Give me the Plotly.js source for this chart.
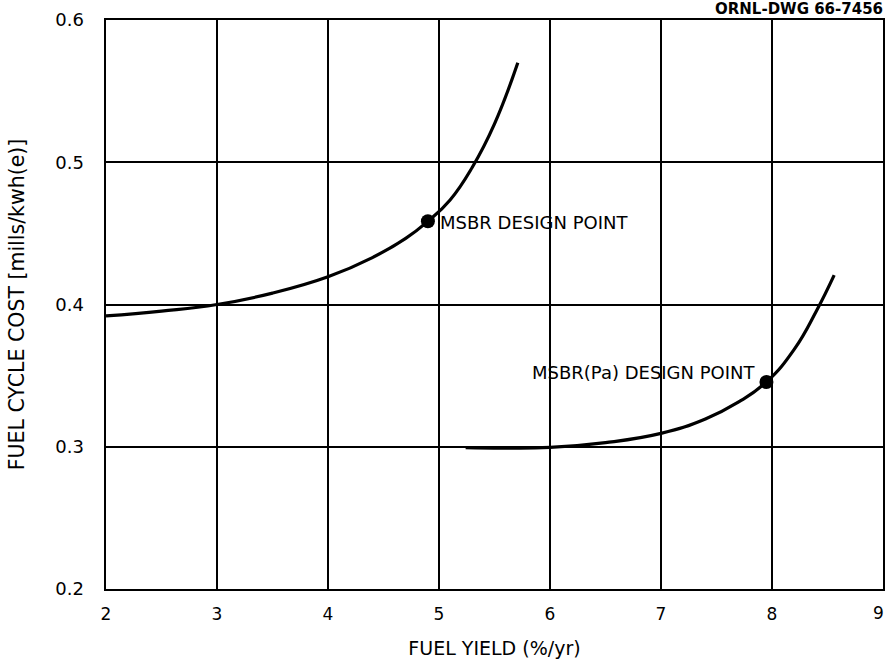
<!DOCTYPE html>
<html>
<head>
<meta charset="utf-8">
<script src="https://cdn.plot.ly/plotly-3.0.1.min.js"></script>
<style>html,body{margin:0;padding:0;background:#fff;}#chart{width:885px;height:664px;}</style>
</head>
<body>
<div id="chart"></div>
<script>
// MSBR curve
const msbrX = [2.0, 2.5, 3.0, 3.5, 4.0, 4.4, 4.7, 4.9, 5.1, 5.3, 5.5, 5.71];
const msbrY = [0.392, 0.3954, 0.400, 0.408, 0.4195, 0.433, 0.4465, 0.4585, 0.4735, 0.4965, 0.527, 0.570];
// MSBR(Pa) curve
const paX = [5.24, 5.6, 6.0, 6.5, 7.0, 7.4, 7.7, 7.95, 8.2, 8.4, 8.56];
const paY = [0.2993, 0.2990, 0.2995, 0.3029, 0.3094, 0.3195, 0.3315, 0.3455, 0.3685, 0.3955, 0.4207];
// design points
const pointX = [4.9, 7.95];
const pointY = [0.4585, 0.3455];
const pointLabels = ["MSBR DESIGN POINT", "MSBR(Pa) DESIGN POINT"];
// ticks
const xTicks = [2, 3, 4, 5, 6, 7, 8];
const xEdgeTick = 9;
const yTicks = [0.2, 0.3, 0.4, 0.5, 0.6];
const yTickLabels = ["0.2", "0.3", "0.4", "0.5", "0.6"];

const fontFam = "DejaVu Sans, Verdana, sans-serif";

const traces = [
  {x: msbrX, y: msbrY, mode: "lines", line: {color: "#000", width: 3.2, shape: "spline", smoothing: 1.3}, hoverinfo: "skip"},
  {x: paX, y: paY, mode: "lines", line: {color: "#000", width: 3.2, shape: "spline", smoothing: 1.3}, hoverinfo: "skip"},
  {x: pointX, y: pointY, mode: "markers", marker: {color: "#000", size: 14}, hoverinfo: "skip"}
];

const layout = {
  width: 885, height: 664,
  margin: {l: 106, r: 2, t: 20, b: 75},
  paper_bgcolor: "#fff", plot_bgcolor: "#fff",
  showlegend: false,
  font: {family: fontFam, color: "#000", size: 17},
  xaxis: {
    range: [2, 9], tickvals: xTicks.concat([xEdgeTick]), ticktext: xTicks.map(String).concat([""]),
    showgrid: true, gridcolor: "#000", gridwidth: 2,
    showline: true, linecolor: "#000", linewidth: 2.4, mirror: true,
    zeroline: false, ticks: "", ticklabelstandoff: 8,
    tickfont: {family: fontFam, size: 17, color: "#000"},
    title: {text: "FUEL YIELD (%/yr)", font: {family: fontFam, size: 19, color: "#000"}, standoff: 19}
  },
  yaxis: {
    range: [0.2, 0.6], tickvals: yTicks, ticktext: yTickLabels,
    showgrid: true, gridcolor: "#000", gridwidth: 2,
    showline: true, linecolor: "#000", linewidth: 2.4, mirror: true,
    zeroline: false, ticks: "", ticklabelstandoff: 16,
    tickfont: {family: fontFam, size: 18, color: "#000"},
    title: {text: "FUEL CYCLE COST [mills/kwh(e)]", font: {family: fontFam, size: 20.5, color: "#000"}, standoff: 25}
  },
  annotations: [
    {x: pointX[0], y: pointY[0], xref: "x", yref: "y", text: pointLabels[0], showarrow: false,
     xanchor: "left", yanchor: "middle", xshift: 10, yshift: -1, font: {family: fontFam, size: 18, color: "#000"}},
    {x: pointX[1], y: pointY[1], xref: "x", yref: "y", text: pointLabels[1], showarrow: false,
     xanchor: "right", yanchor: "middle", xshift: -8, yshift: 10, font: {family: fontFam, size: 18, color: "#000"}},
    {x: xEdgeTick, y: 0, xref: "x", yref: "paper", text: String(xEdgeTick), showarrow: false,
     xanchor: "right", yanchor: "top", xshift: 3, yshift: -12, font: {family: fontFam, size: 17, color: "#000"}},
    {x: 1, y: 1, xref: "paper", yref: "paper", text: "<b>ORNL-DWG 66-7456</b>", showarrow: false,
     xanchor: "right", yanchor: "bottom", xshift: 2, yshift: 0, font: {family: fontFam, size: 15, color: "#000"}}
  ]
};

Plotly.newPlot("chart", traces, layout, {staticPlot: true, displayModeBar: false});
</script>
</body>
</html>
